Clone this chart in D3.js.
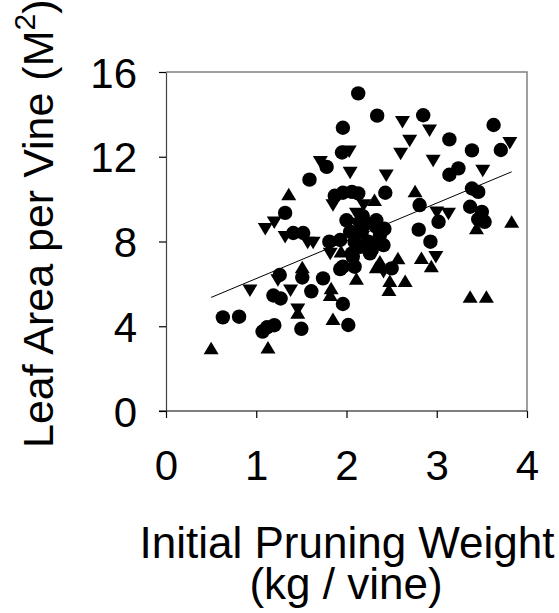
<!DOCTYPE html>
<html>
<head>
<meta charset="utf-8">
<script src="https://cdn.jsdelivr.net/npm/d3@7"></script>
<style>
html,body{margin:0;padding:0;background:#fff;}
svg{display:block;}
text{font-family:"Liberation Sans",Arial,Helvetica,sans-serif;fill:#000;}
</style>
</head>
<body>
<svg id="chart" width="559" height="613"></svg>
<script>
// ---- data ----
const circles = [
  [0.63,4.42],[0.81,4.45],[1.07,3.75],[1.12,3.95],[1.20,4.05],[1.50,3.88],
  [1.19,5.45],[1.27,5.31],[1.26,6.42],[1.51,6.30],[1.61,5.65],[1.74,6.26],
  [1.96,5.05],[2.02,4.06],[1.93,6.70],[2.09,6.81],[2.07,7.28],[1.32,9.35],
  [1.41,8.40],[1.52,8.40],[1.59,10.92],[1.78,11.52],[1.96,13.37],[2.13,14.99],
  [2.34,13.94],[2.85,13.96],[1.95,12.20],[3.14,12.82],[3.63,13.50],[3.71,12.32],
  [3.39,12.30],[3.24,11.45],[3.14,11.15],[2.43,10.30],[2.81,9.72],[3.02,8.93],
  [2.80,8.56],[2.93,7.99],[3.39,10.50],[3.46,10.34],[3.37,9.64],[3.50,9.40],
  [3.53,8.93],[3.46,9.05],[1.87,10.16],[1.96,10.30],[2.06,10.34],[2.13,10.27],
  [2.00,9.00],[2.04,8.46],[2.17,8.46],[1.81,7.99],[1.93,8.07],[2.24,7.99],
  [2.33,7.91],[2.41,7.83],[2.26,7.44],[2.28,7.60],[2.06,7.44],[1.96,6.81],
  [2.33,8.69],[2.37,8.30],[2.33,9.00],[2.22,8.85],[2.50,6.73],[2.09,7.99],
  [2.42,8.60],[2.18,9.20],[2.15,7.75]
];
const trianglesUp = [
  [0.50,2.88],[1.13,2.91],[1.46,4.55],[1.51,6.70],[1.83,5.71],[1.82,5.39],
  [1.85,4.25],[2.11,6.15],[1.36,10.14],[2.76,10.28],[3.83,8.85],[3.44,8.54],
  [2.83,7.14],[2.94,6.75],[2.57,7.12],[2.65,6.05],[3.37,5.31],[3.55,5.31],
  [2.48,6.05],[2.47,5.63],[2.37,6.97],[2.33,6.70],[1.94,7.44],[2.31,9.87]
];
const trianglesDown = [
  [0.93,5.77],[1.38,5.77],[1.46,4.88],[1.24,6.26],[1.10,8.68],[1.20,8.98],
  [1.32,8.30],[1.57,8.03],[1.63,8.03],[1.71,11.84],[2.03,12.33],[2.04,11.33],
  [2.44,11.20],[2.62,13.73],[2.92,13.33],[2.70,12.84],[2.60,12.23],[2.96,11.90],
  [3.51,11.42],[3.81,12.74],[3.00,9.45],[3.13,9.40],[2.99,7.36],[1.85,9.80],
  [2.19,9.80],[2.11,9.40],[2.11,8.93],[1.82,7.51],[2.41,6.65]
];
const fitLine = [[0.50,5.36],[3.83,11.29]];
const xTicks = [0,1,2,3,4];
const yTicks = [0,4,8,12,16];
const xTitle = ["Initial Pruning Weight","(kg / vine)"];

// ---- drawing ----
const svg = d3.select("#chart");
const x = d3.scaleLinear().domain([0,4]).range([166,527]);
const y = d3.scaleLinear().domain([0,16]).range([411,72]);

// frame (top/right, grey)
svg.append("path")
  .attr("d", `M${x(0)},${y(16)}H${x(4)}V${y(0)}`)
  .attr("fill","none").attr("stroke","#808080").attr("stroke-width",1.5);

// axes
const xAxis = d3.axisBottom(x).tickValues(xTicks).tickFormat(d3.format("d"))
  .tickSizeInner(7).tickSizeOuter(0).tickPadding(32);
const gx = svg.append("g").attr("transform",`translate(0,${y(0)})`).call(xAxis);
gx.select(".domain").remove();
gx.append("line").attr("x1",159).attr("x2",x(4)).attr("y1",0).attr("y2",0)
  .attr("stroke","#000").attr("stroke-width",1.2);
gx.selectAll(".tick line").attr("stroke","#000").attr("stroke-width",1.2);
gx.selectAll(".tick text").attr("font-size",42).attr("font-family",null).style("fill","#000");

const yAxis = d3.axisLeft(y).tickValues(yTicks).tickFormat(d3.format("d"))
  .tickSizeInner(7).tickSizeOuter(0).tickPadding(22);
const gy = svg.append("g").attr("transform",`translate(${x(0)},0)`).call(yAxis);
gy.select(".domain").attr("stroke","#404040").attr("stroke-width",1.2);
gy.selectAll(".tick line").attr("stroke","#000").attr("stroke-width",1.2);
gy.selectAll(".tick text").attr("font-size",42).attr("font-family",null).attr("dy","0.36em").style("fill","#000");

// regression line
svg.append("path").datum(fitLine)
  .attr("d", d3.line().x(d=>x(d[0])).y(d=>y(d[1])))
  .attr("fill","none").attr("stroke","#000").attr("stroke-width",1);

// markers
const triW = 15, triH = 12.5;
const triUpType = {draw(ctx){ ctx.moveTo(0,-triH*2/3); ctx.lineTo(triW/2,triH/3); ctx.lineTo(-triW/2,triH/3); ctx.closePath(); }};
const triDownType = {draw(ctx){ ctx.moveTo(0,triH*2/3); ctx.lineTo(triW/2,-triH/3); ctx.lineTo(-triW/2,-triH/3); ctx.closePath(); }};
const circlePath = d3.symbol().type(d3.symbolCircle).size(Math.PI*7.2*7.2)();

svg.append("g").selectAll("path").data(trianglesDown).join("path")
  .attr("d", d3.symbol().type(triDownType)())
  .attr("transform", d=>`translate(${x(d[0])},${y(d[1])})`).attr("fill","#000");
svg.append("g").selectAll("path").data(trianglesUp).join("path")
  .attr("d", d3.symbol().type(triUpType)())
  .attr("transform", d=>`translate(${x(d[0])},${y(d[1])})`).attr("fill","#000");
svg.append("g").selectAll("path").data(circles).join("path")
  .attr("d", circlePath)
  .attr("transform", d=>`translate(${x(d[0])},${y(d[1])})`).attr("fill","#000");

// axis titles
svg.append("text").attr("x",347).attr("y",558).attr("text-anchor","middle")
  .attr("font-size",44).text(xTitle[0]);
svg.append("text").attr("x",346).attr("y",599).attr("text-anchor","middle")
  .attr("font-size",44).text(xTitle[1]);

const yt = svg.append("text").attr("transform","translate(53,448) rotate(-90)")
  .attr("text-anchor","start").attr("font-size",43);
yt.append("tspan").text("Leaf Area per Vine (M");
yt.append("tspan").attr("font-size",30).attr("dy","-0.6em").text("2");
yt.append("tspan").attr("dy","0.42em").text(")");
</script>
</body>
</html>
